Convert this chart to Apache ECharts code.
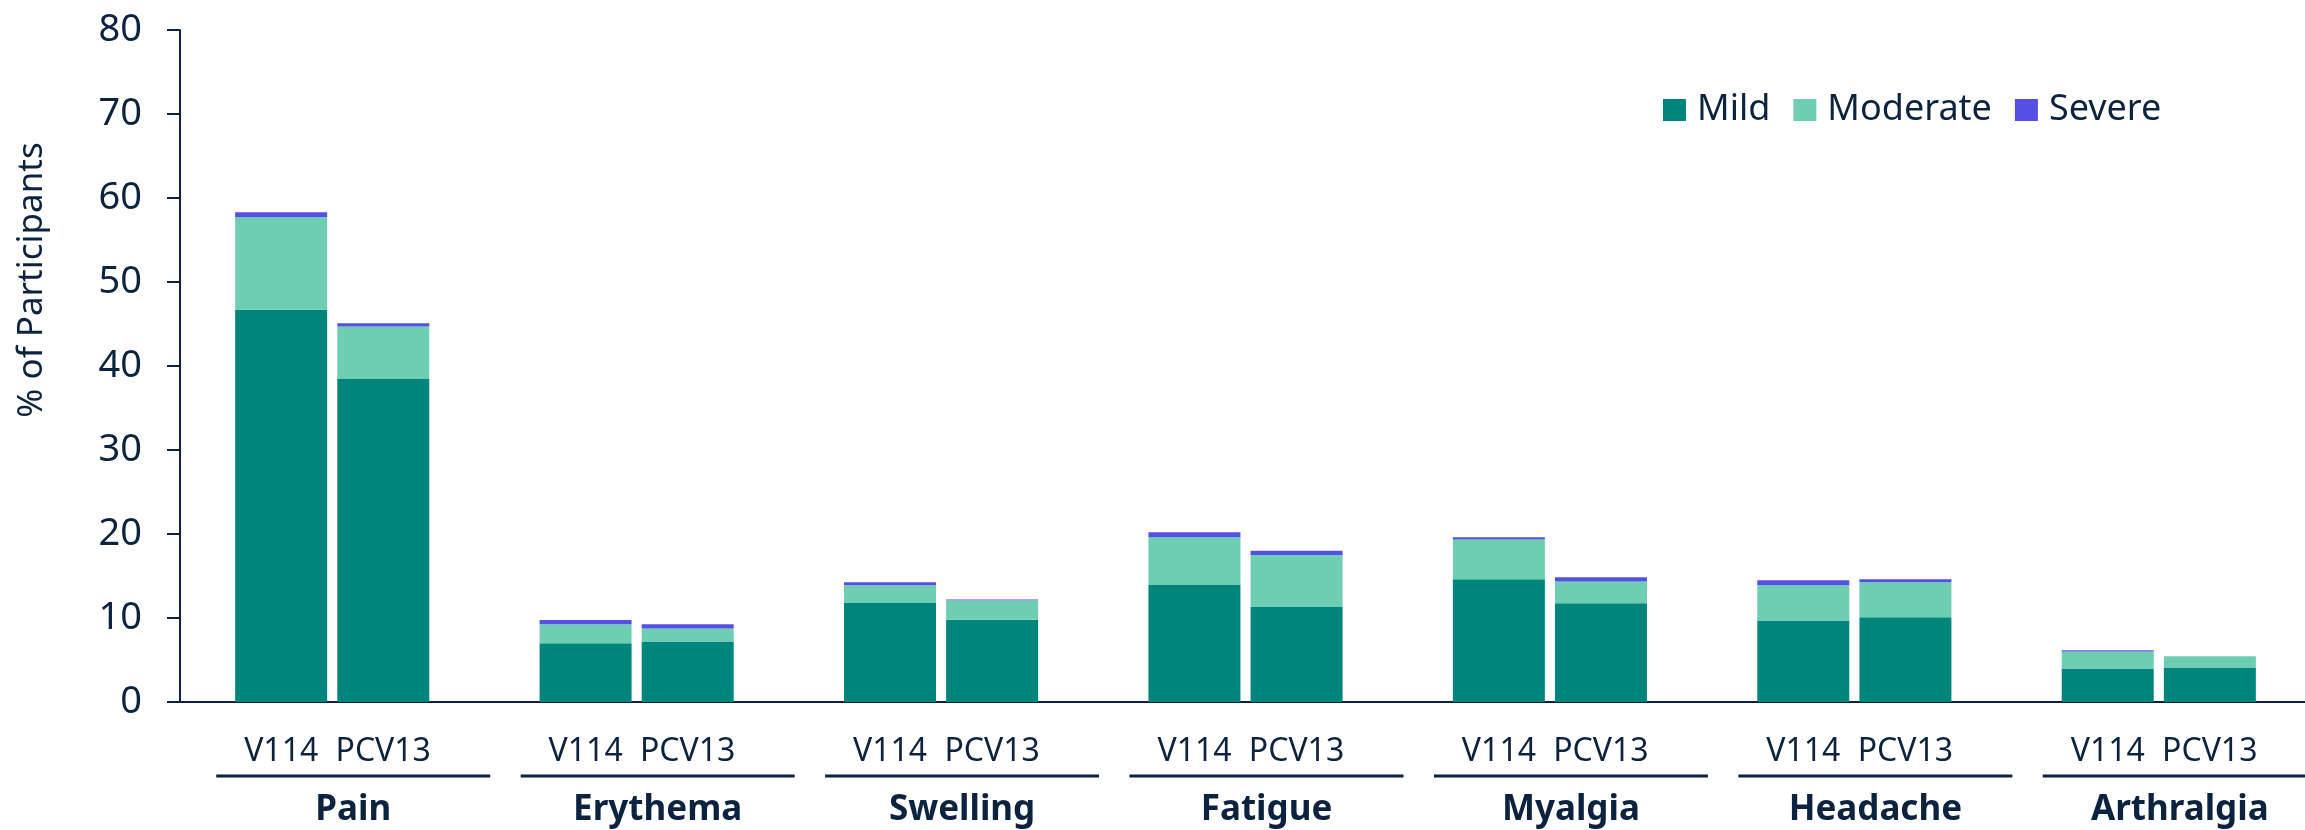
<!DOCTYPE html>
<html lang="en">
<head>
    <meta charset="UTF-8">
    <script src="https://cdn.jsdelivr.net/npm/echarts@6/dist/echarts.min.js"></script>
    <style>
        html, body { margin: 0; padding: 0; background: #fff; }
        #chart { width: 2305px; height: 830px; }
    </style>
</head>
<body>
<div id="chart"></div>
<script>
    // 数据
    var categories = ['Pain', 'Erythema', 'Swelling', 'Fatigue', 'Myalgia', 'Headache', 'Arthralgia'];
    var groups = ['V114', 'PCV13'];
    var levels = ['Mild', 'Moderate', 'Severe'];
    var v114Mild = [46.7, 7.0, 11.8, 14.0, 14.6, 9.7, 4.0];
    var v114Moderate = [11.0, 2.25, 2.1, 5.6, 4.75, 4.2, 2.0];
    var v114Severe = [0.6, 0.5, 0.35, 0.6, 0.25, 0.6, 0.15];
    var pcv13Mild = [38.5, 7.2, 9.8, 11.3, 11.75, 10.1, 4.1];
    var pcv13Moderate = [6.2, 1.55, 2.3, 6.2, 2.6, 4.15, 1.35];
    var pcv13Severe = [0.4, 0.5, 0.1, 0.5, 0.5, 0.35, 0];
    var yTicks = [0, 10, 20, 30, 40, 50, 60, 70, 80];

    var navy = '#0c2340';
    var colors = { Mild: '#00857c', Moderate: '#6eceb2', Severe: '#5450e4' };
    var font = '"Noto Sans", sans-serif';

    var groupData = {
        V114: [v114Mild, v114Moderate, v114Severe],
        PCV13: [pcv13Mild, pcv13Moderate, pcv13Severe]
    };

    var series = [];
    groups.forEach(function (g) {
        levels.forEach(function (lv, i) {
            series.push({
                name: lv,
                type: 'bar',
                stack: g,
                data: groupData[g][i],
                barWidth: 92,
                barGap: '11%',
                itemStyle: { color: colors[lv] },
                emphasis: { disabled: true }
            });
        });
    });

    var myChart = echarts.init(document.getElementById('chart'));
    var option = {
        animation: false,
        textStyle: { fontFamily: font },
        // 最后一组超出画布右边，跟原图一样被截掉
        grid: { left: 180, top: 30, width: 2131, height: 672, outerBoundsMode: 'none', containLabel: false },
        legend: {
            data: levels,
            left: 1663,
            top: 92,
            padding: 0,
            icon: 'rect',
            itemWidth: 23,
            itemHeight: 22,
            itemGap: 23,
            textStyle: { fontSize: 36, color: navy, fontFamily: font, lineHeight: 22, padding: [0, 0, 0, 6] }
        },
        xAxis: {
            type: 'category',
            data: categories,
            axisLine: { lineStyle: { color: navy, width: 2 } },
            axisTick: { length: 11, lineStyle: { color: navy, width: 1.5 } },
            axisLabel: {
                interval: 0,
                margin: 30,
                formatter: function (v) {
                    return '{a|' + groups[0] + '}{b|' + groups[1] + '}\n{sp|}{u|}\n{sp|}{n|' + v + '}';
                },
                rich: {
                    a: { width: 102, align: 'center', fontSize: 32, lineHeight: 40, color: navy, fontFamily: font },
                    b: { width: 102, align: 'center', fontSize: 32, lineHeight: 40, color: navy, fontFamily: font },
                    sp: { width: 42, height: 3, lineHeight: 8 },
                    u: { width: 274, height: 3, lineHeight: 8, backgroundColor: navy },
                    n: { width: 274, align: 'center', fontSize: 35, fontWeight: 'bold', lineHeight: 61, color: navy, fontFamily: font }
                }
            }
        },
        yAxis: {
            type: 'value',
            min: yTicks[0],
            max: yTicks[yTicks.length - 1],
            interval: 10,
            name: '% of Participants',
            nameLocation: 'middle',
            nameGap: 130,
            nameTextStyle: { fontSize: 35, color: navy, fontFamily: font, padding: [0, 0, 0, 172] },
            splitLine: { show: false },
            axisLine: { show: true, lineStyle: { color: navy, width: 2 } },
            axisTick: { show: true, length: 13, lineStyle: { color: navy, width: 2 } },
            axisLabel: { fontSize: 38, color: navy, margin: 38, fontFamily: font }
        },
        series: series
    };
    myChart.setOption(option);
</script>
</body>
</html>
